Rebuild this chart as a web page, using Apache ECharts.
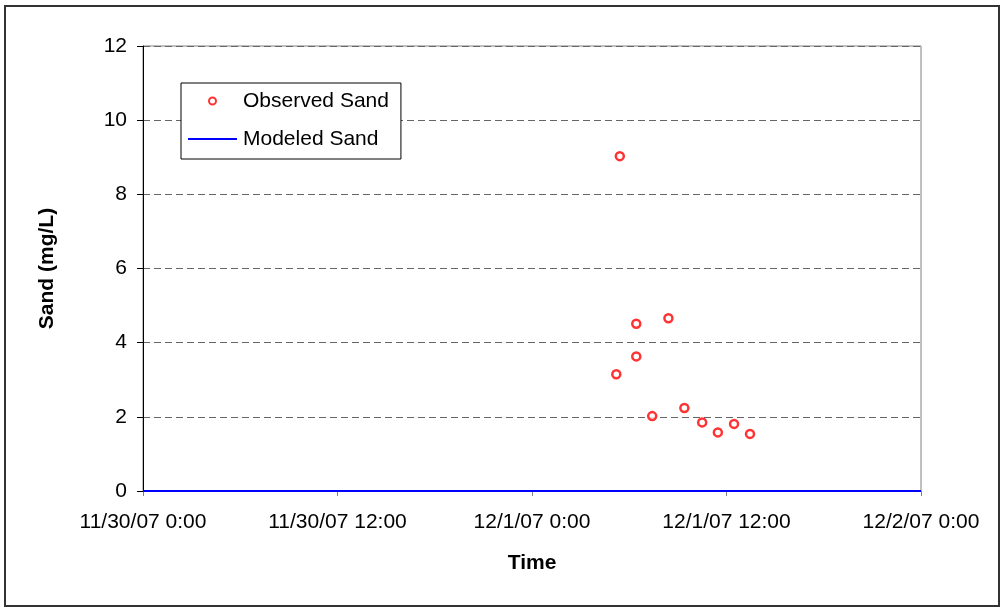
<!DOCTYPE html>
<html>
<head>
<meta charset="utf-8">
<script src="https://cdn.jsdelivr.net/npm/echarts@6/dist/echarts.min.js"></script>
<style>
  html, body { margin: 0; padding: 0; background: #fff; }
  #frame { position: absolute; left: 4px; top: 5px; width: 992px; height: 598px; border: 2px solid #333; box-sizing: content-box; }
  #chart { position: absolute; left: 0; top: 0; width: 1001px; height: 608px; }
</style>
</head>
<body>
<div id="frame"></div>
<div id="chart"></div>
<script>
// Observed sand samples (local time, mg/L)
const obsTimes = [
  '2007-12-01 05:12', '2007-12-01 05:25', '2007-12-01 06:26', '2007-12-01 06:26',
  '2007-12-01 07:25', '2007-12-01 08:25', '2007-12-01 09:24', '2007-12-01 10:30',
  '2007-12-01 11:28', '2007-12-01 12:28', '2007-12-01 13:27'
];
const obsValues = [3.15, 9.03, 4.51, 3.63, 2.02, 4.66, 2.24, 1.85, 1.58, 1.81, 1.54];

// Modeled sand concentration
const modTimes = ['2007-11-30 00:00', '2007-12-02 00:00'];
const modValues = [0, 0];

// Axis ranges
const xStart = '2007-11-30 00:00';
const xEnd = '2007-12-02 00:00';
const yTicks = [0, 2, 4, 6, 8, 10, 12];

function toMs(s) {
  const [d, t] = s.split(' ');
  const [Y, M, D] = d.split('-').map(Number);
  const [h, m] = t.split(':').map(Number);
  return Date.UTC(Y, M - 1, D, h, m);
}
function fmt(ms) {
  const d = new Date(ms);
  const yy = String(d.getUTCFullYear() % 100).padStart(2, '0');
  return (d.getUTCMonth() + 1) + '/' + d.getUTCDate() + '/' + yy + ' ' +
         d.getUTCHours() + ':' + String(d.getUTCMinutes()).padStart(2, '0');
}

const FONT = 'Arial, "Liberation Sans", sans-serif';
const HALF_DAY = 12 * 3600 * 1000;

const chart = echarts.init(document.getElementById('chart'), null, { renderer: 'canvas' });
chart.setOption({
  animation: false,
  backgroundColor: 'transparent',
  textStyle: { fontFamily: FONT },
  grid: {
    left: 143, top: 46, right: 80, bottom: 117,
    show: true, borderColor: '#808080', borderWidth: 1, backgroundColor: 'transparent'
  },
  legend: {
    orient: 'vertical',
    left: 181, top: 83,
    padding: [6, 12, 8, 7],
    itemGap: 14,
    itemWidth: 49,
    itemHeight: 7,
    symbolKeepAspect: true,
    borderColor: '#000', borderWidth: 1,
    backgroundColor: '#fff',
    textStyle: { fontFamily: FONT, fontSize: 21, color: '#000', lineHeight: 24, padding: [0, 0, 0, 1] },
    data: [
      { name: 'Observed Sand' },
      { name: 'Modeled Sand', icon: 'path://M0,0H49V2H0Z' }
    ]
  },
  xAxis: {
    type: 'value',
    min: toMs(xStart), max: toMs(xEnd), interval: HALF_DAY,
    name: 'Time', nameLocation: 'middle', nameGap: 62,
    nameTextStyle: { fontFamily: FONT, fontSize: 21, fontWeight: 'bold', color: '#000' },
    axisLine: { show: true, lineStyle: { color: '#808080', width: 1 } },
    axisTick: { show: true, inside: false, length: 5, lineStyle: { color: '#808080' } },
    axisLabel: { fontFamily: FONT, fontSize: 21, color: '#000', margin: 21, formatter: fmt, showMinLabel: true, showMaxLabel: true, hideOverlap: false },
    splitLine: { show: false }
  },
  yAxis: {
    type: 'value',
    min: yTicks[0], max: yTicks[yTicks.length - 1], interval: yTicks[1] - yTicks[0],
    name: 'Sand (mg/L)', nameLocation: 'middle', nameGap: 85, nameRotate: 90,
    nameTextStyle: { fontFamily: FONT, fontSize: 21, fontWeight: 'bold', color: '#000' },
    axisLine: { show: true, lineStyle: { color: '#000', width: 1 } },
    axisTick: { show: true, inside: false, length: 6, lineStyle: { color: '#000' } },
    axisLabel: { fontFamily: FONT, fontSize: 21, color: '#000', margin: 16 },
    splitLine: { show: true, lineStyle: { color: '#666', type: [7, 4], width: 1 } }
  },
  series: [
    {
      name: 'Observed Sand',
      type: 'scatter',
      symbol: 'circle',
      symbolSize: 8,
      itemStyle: { color: '#ffffff', borderColor: '#ff0000', borderWidth: 2.5 },
      data: obsTimes.map((t, i) => [toMs(t), obsValues[i]]),
      z: 5
    },
    {
      name: 'Modeled Sand',
      type: 'line',
      showSymbol: false,
      symbol: 'none',
      lineStyle: { color: '#0000ff', width: 2 },
      itemStyle: { color: '#0000ff' },
      data: modTimes.map((t, i) => [toMs(t), modValues[i]]),
      z: 4
    }
  ]
});
</script>
</body>
</html>
